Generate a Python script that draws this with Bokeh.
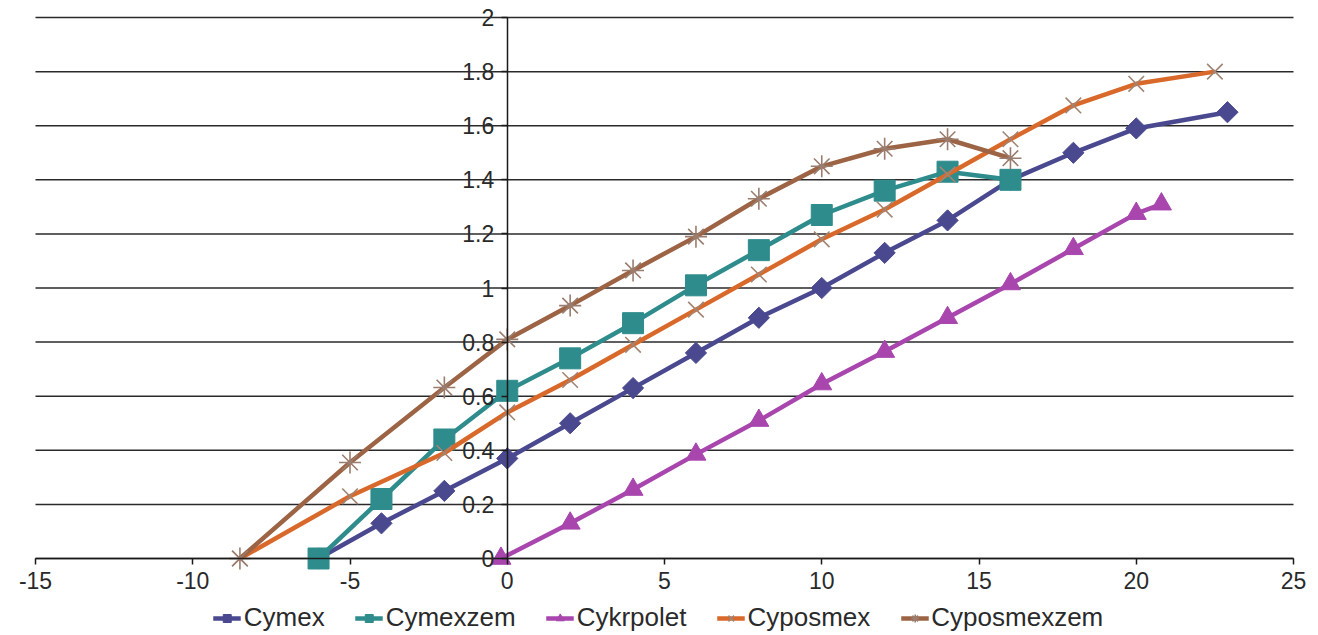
import math
from bokeh.plotting import figure
from bokeh.models import Range1d, FixedTicker, Legend, LegendItem
from bokeh.embed import file_html
from bokeh.resources import INLINE

# ---- data ----
x_ticks = [-15, -10, -5, 0, 5, 10, 15, 20, 25]
x_tick_labels = ["-15", "-10", "-5", "0", "5", "10", "15", "20", "25"]
y_ticks = [0, 0.2, 0.4, 0.6, 0.8, 1, 1.2, 1.4, 1.6, 1.8, 2]
y_tick_labels = ["0", "0.2", "0.4", "0.6", "0.8", "1", "1.2", "1.4", "1.6", "1.8", "2"]

cymex_x = [-6, -4, -2, 0, 2, 4, 6, 8, 10, 12, 14, 16, 18, 20, 22.9]
cymex_y = [0, 0.13, 0.25, 0.37, 0.5, 0.63, 0.76, 0.89, 1.0, 1.13, 1.25, 1.4, 1.5, 1.59, 1.65]

cymexzem_x = [-6, -4, -2, 0, 2, 4, 6, 8, 10, 12, 14, 16]
cymexzem_y = [0, 0.22, 0.44, 0.62, 0.74, 0.87, 1.01, 1.14, 1.27, 1.36, 1.43, 1.40]

cykrpolet_x = [-0.2, 2, 4, 6, 8, 10, 12, 14, 16, 18, 20, 20.8]
cykrpolet_y = [0.0, 0.13, 0.255, 0.385, 0.51, 0.645, 0.765, 0.89, 1.015, 1.145, 1.275, 1.31]

cyposmex_x = [-8.5, -5, -2, 0, 2, 4, 6, 8, 10, 12, 14, 16, 18, 20, 22.5]
cyposmex_y = [0, 0.23, 0.39, 0.54, 0.66, 0.79, 0.92, 1.05, 1.18, 1.29, 1.42, 1.55, 1.675, 1.755, 1.8]

cyposmexzem_x = [-8.5, -5, -2, 0, 2, 4, 6, 8, 10, 12, 14, 16]
cyposmexzem_y = [0, 0.355, 0.632, 0.81, 0.935, 1.065, 1.19, 1.33, 1.45, 1.515, 1.55, 1.48]

names = ["Cymex", "Cymexzem", "Cykrpolet", "Cyposmex", "Cyposmexzem"]

# ---- figure ----
FONT = "Liberation Sans"
W, H = 1316, 634
p = figure(width=W, height=H,
           x_range=Range1d(-16.113, 25.731), y_range=Range1d(-0.281, 2.063),
           output_backend="svg", toolbar_location=None,
           min_border_left=0, min_border_right=0, min_border_top=0, min_border_bottom=0)
p.outline_line_color = None
p.background_fill_color = "white"
p.border_fill_color = "white"

p.xgrid.visible = False
p.ygrid.visible = False

# horizontal gridlines spanning the axis extent only
n = len(y_ticks)
p.segment(x0=[x_ticks[0]] * n, x1=[x_ticks[-1]] * n, y0=y_ticks, y1=y_ticks,
          line_color="#2a2a2a", line_width=1.5)

for ax in (p.xaxis[0], p.yaxis[0]):
    ax.fixed_location = 0
    ax.axis_line_color = "#1a1a1a"
    ax.axis_line_width = 1.5
    ax.major_tick_line_color = "#1a1a1a"
    ax.major_tick_line_width = 1.5
    ax.major_tick_in = 0
    ax.major_tick_out = 6
    ax.minor_tick_line_color = None
    ax.major_label_text_font = FONT
    ax.major_label_text_font_size = "23px"
    ax.major_label_text_color = "#2a2a2a"

p.xaxis.ticker = FixedTicker(ticks=x_ticks)
p.xaxis.bounds = (x_ticks[0], x_ticks[-1])
p.xaxis.major_label_standoff = 8
p.xaxis.major_label_overrides = {t: l for t, l in zip(x_ticks, x_tick_labels)}
p.yaxis.ticker = FixedTicker(ticks=y_ticks)
p.yaxis.bounds = (y_ticks[0], y_ticks[-1])
p.yaxis.major_label_standoff = 7
p.yaxis.major_label_overrides = {t: l for t, l in zip(y_ticks, y_tick_labels)}

items = []

# Cymex
l1 = p.line(cymex_x, cymex_y, line_color="#4a4990", line_width=4.5)
s1 = p.scatter(cymex_x, cymex_y, marker="square", angle=math.pi / 4, size=15,
               fill_color="#4a4990", line_color="#4a4990")
items.append(LegendItem(label=names[0], renderers=[l1, s1]))

# Cymexzem
l2 = p.line(cymexzem_x, cymexzem_y, line_color="#2f8c8c", line_width=4.5)
s2 = p.scatter(cymexzem_x, cymexzem_y, marker="square", size=21,
               fill_color="#2f8c8c", line_color="#2f8c8c")
items.append(LegendItem(label=names[1], renderers=[l2, s2]))

# Cykrpolet
l3 = p.line(cykrpolet_x, cykrpolet_y, line_color="#a846ae", line_width=4.5)
s3 = p.scatter(cykrpolet_x, cykrpolet_y, marker="triangle", size=20,
               fill_color="#a846ae", line_color="#a846ae")
items.append(LegendItem(label=names[2], renderers=[l3, s3]))

# Cyposmex
l4 = p.line(cyposmex_x, cyposmex_y, line_color="#d9692a", line_width=4.5)
s4 = p.scatter(cyposmex_x, cyposmex_y, marker="x", size=22, line_color="#a08474", line_width=1.6)
items.append(LegendItem(label=names[3], renderers=[l4, s4]))

# Cyposmexzem
l5 = p.line(cyposmexzem_x, cyposmexzem_y, line_color="#9c6444", line_width=4.5)
s5 = p.scatter(cyposmexzem_x, cyposmexzem_y, marker="asterisk", size=22, line_color="#9a7d6e", line_width=1.6)
items.append(LegendItem(label=names[4], renderers=[l5, s5]))

legend = Legend(items=items, orientation="horizontal", location="bottom_center",
                border_line_color=None, background_fill_alpha=0,
                padding=0, margin=1, spacing=30, label_standoff=3,
                glyph_width=28, glyph_height=20,
                label_text_font=FONT, label_text_font_size="26px",
                label_text_color="#2a2a2a")
p.add_layout(legend)

open("out.html", "w").write(file_html(p, INLINE))
